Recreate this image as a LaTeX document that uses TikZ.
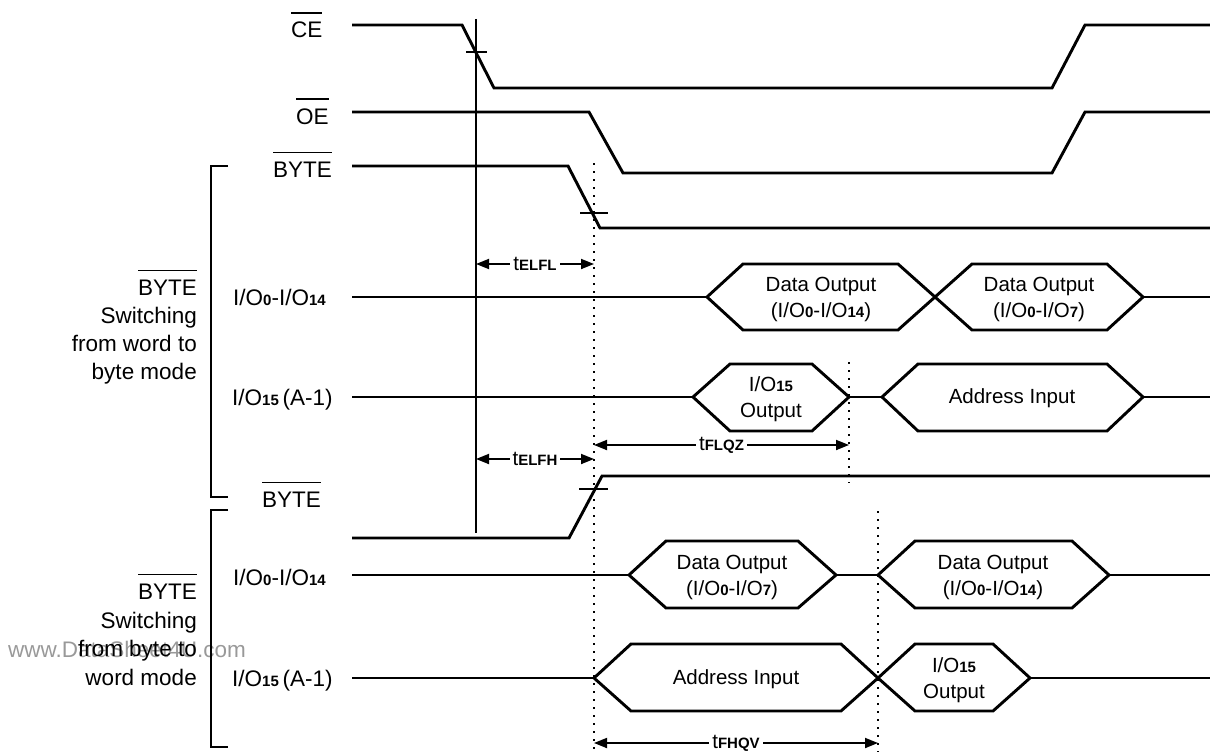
\documentclass[tikz,border=0pt]{standalone}
\usepackage{fontspec}
\setmainfont{Liberation Sans}
\usetikzlibrary{arrows.meta}
\newcommand\sbd[1]{{\fontsize{15}{15}\selectfont\bfseries #1}}
\newcommand\ovl[1]{\vbox{\hrule height 1.3pt\kern 8.5pt\hbox{#1}}}
\begin{document}
\begin{tikzpicture}[x=1pt,y=-1pt,
  sig/.style={line width=2.9pt},
  fine/.style={line width=1.3pt},
  brk/.style={line width=1.8pt},
  dots/.style={line width=1.9pt, dash pattern=on 1.9pt off 6.1pt},
  dim/.style={line width=1.8pt, {Triangle[length=13pt,width=10pt]}-{Triangle[length=13pt,width=10pt]}},
  dlab/.style={fill=white, inner xsep=3pt, inner ysep=1pt, font=\fontsize{20.5}{20}\selectfont},
  lbl/.style={inner sep=0pt, font=\fontsize{22.5}{27}\selectfont},
  hext/.style={inner sep=0pt, align=center, font=\fontsize{20.5}{26}\selectfont}]
\useasboundingbox (0,0) rectangle (1210,752);

% watermark
\node[lbl, anchor=base west, text=black!40] (wm) at (8,657) {www.DataSheet4U.com};

% signal name labels
\node[lbl, anchor=base west] (nCE) at (291,38) {\ovl{CE}};
\node[lbl, anchor=base west] (nOE) at (296,124) {\ovl{OE}};
\node[lbl, anchor=base west] (nBY1) at (273,177) {\ovl{BYTE}};
\node[lbl, anchor=base west] (nBY2) at (262,507) {\ovl{BYTE}};
\node[lbl, anchor=base west] (nIO1) at (233,305) {I/O\sbd{0}-I/O\sbd{14}};
\node[lbl, anchor=base west] (nIO2) at (232,405) {I/O\sbd{15}\,(A-1)};
\node[lbl, anchor=base west] (nIO3) at (233,585) {I/O\sbd{0}-I/O\sbd{14}};
\node[lbl, anchor=base west] (nIO4) at (232,686) {I/O\sbd{15}\,(A-1)};

% group labels
\node[lbl, anchor=base east] (g1a) at (197,295) {\ovl{BYTE}};
\node[lbl, anchor=base east] (g1b) at (197,323) {Switching};
\node[lbl, anchor=base east] (g1c) at (197,351) {from word to};
\node[lbl, anchor=base east] (g1d) at (197,379) {byte mode};
\node[lbl, anchor=base east] (g2a) at (197,599) {\ovl{BYTE}};
\node[lbl, anchor=base east] (g2b) at (197,628) {Switching};
\node[lbl, anchor=base east] (g2c) at (197,656) {from byte to};
\node[lbl, anchor=base east] (g2d) at (197,685) {word mode};

% brackets
\draw[brk] (228,166) -- (211,166) -- (211,497) -- (228,497);
\draw[brk] (228,510) -- (211,510) -- (211,747) -- (228,747);

% guide lines
\draw[fine] (476,19) -- (476,533);
\draw[dots] (594,163) -- (594,752);
\draw[dots] (849,362) -- (849,483);
\draw[dots] (878,511) -- (878,752);

% CE
\draw[sig] (352,25) -- (462,25) -- (494,88) -- (1052,88) -- (1085,25) -- (1210,25);
\draw[fine] (466,52) -- (487,52);
% OE
\draw[sig] (352,112) -- (589,112) -- (623,173) -- (1052,173) -- (1085,112) -- (1210,112);
% BYTE (top)
\draw[sig] (352,166) -- (568,166) -- (600,228) -- (1210,228);
\draw[fine] (580,213) -- (608,213);

% I/O0-I/O14 (word to byte)
\draw[sig] (352,297) -- (707,297);
\draw[sig] (707,297) -- (743,264) -- (898,264) -- (935,297) -- (898,330) -- (743,330) -- cycle;
\draw[sig] (935,297) -- (972,264) -- (1107,264) -- (1143,297) -- (1107,330) -- (972,330) -- cycle;
\draw[sig] (1143,297) -- (1210,297);
\node[hext] (h1) at (821,299.5) {Data Output\\(I/O\sbd{0}-I/O\sbd{14})};
\node[hext] (h2) at (1039,299.5) {Data Output\\(I/O\sbd{0}-I/O\sbd{7})};

% I/O15 (word to byte)
\draw[sig] (352,397) -- (693,397);
\draw[sig] (693,397) -- (730,364) -- (812,364) -- (849,397) -- (812,431) -- (730,431) -- cycle;
\draw[sig] (849,397) -- (882,397);
\draw[sig] (882,397) -- (918,364) -- (1107,364) -- (1143,397) -- (1107,431) -- (918,431) -- cycle;
\draw[sig] (1143,397) -- (1210,397);
\node[hext] (h3) at (771,399.5) {I/O\sbd{15}\\Output};
\node[hext] (h4) at (1012,398) {Address Input};

% BYTE (bottom)
\draw[sig] (352,538) -- (569,538) -- (602,476) -- (1210,476);
\draw[fine] (579,489) -- (608,489);

% I/O0-I/O14 (byte to word)
\draw[sig] (352,575) -- (629,575);
\draw[sig] (629,575) -- (666,541) -- (798,541) -- (836,575) -- (798,608) -- (666,608) -- cycle;
\draw[sig] (836,575) -- (878,575);
\draw[sig] (878,575) -- (915,541) -- (1072,541) -- (1109,575) -- (1072,608) -- (915,608) -- cycle;
\draw[sig] (1109,575) -- (1210,575);
\node[hext] (h5) at (732,577.5) {Data Output\\(I/O\sbd{0}-I/O\sbd{7})};
\node[hext] (h6) at (993,577.5) {Data Output\\(I/O\sbd{0}-I/O\sbd{14})};

% I/O15 (byte to word)
\draw[sig] (352,678) -- (594,678);
\draw[sig] (594,678) -- (631,644) -- (841,644) -- (878,678) -- (841,711) -- (631,711) -- cycle;
\draw[sig] (878,678) -- (915,644) -- (993,644) -- (1030,678) -- (993,711) -- (915,711) -- cycle;
\draw[sig] (1030,678) -- (1210,678);
\node[hext] (h7) at (736,679) {Address Input};
\node[hext] (h8) at (954,680.5) {I/O\sbd{15}\\Output};

% timing dimensions
\coordinate (a1) at (476,264); \coordinate (b1) at (594,264);
\coordinate (a2) at (476,459); \coordinate (b2) at (594,459);
\coordinate (a3) at (594,445); \coordinate (b3) at (849,445);
\coordinate (a4) at (594,743); \coordinate (b4) at (878,743);
\draw[dim] (a1) -- node[dlab] (t1) {t\sbd{ELFL}} (b1);
\draw[dim] (a2) -- node[dlab] (t2) {t\sbd{ELFH}} (b2);
\draw[dim] (a3) -- node[dlab] (t3) {t\sbd{FLQZ}} (b3);
\draw[dim] (a4) -- node[dlab] (t4) {t\sbd{FHQV}} (b4);
\end{tikzpicture}
\end{document}
